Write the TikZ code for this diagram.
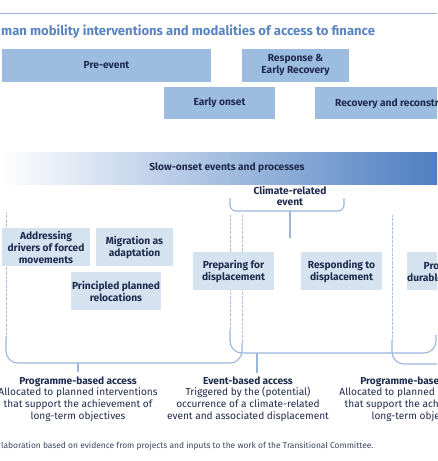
\documentclass[tikz,border=0pt]{standalone}
\usepackage{fontspec}
\setmainfont{Fira Sans}
\definecolor{navy}{HTML}{1F2B4D}
\definecolor{topfill}{HTML}{9DBDE0}
\definecolor{lowfill}{HTML}{D5E3F1}
\definecolor{linec}{HTML}{9AB7DB}
\definecolor{titlec}{HTML}{5A85C0}
\definecolor{barmid}{HTML}{B9CEE9}
\definecolor{barright}{HTML}{4E7FC1}
\definecolor{footc}{HTML}{3A4560}
\begin{document}
\begin{tikzpicture}[x=1pt,y=-1pt,
  boxfont/.style={font=\fontsize{10.2}{12}\selectfont\bfseries,text=navy,align=center},
  topbox/.style={boxfont,fill=topfill,draw=none,inner sep=0pt},
  lowbox/.style={boxfont,fill=lowfill,draw=none,inner sep=0pt,minimum height=38pt},
  brk/.style={draw=linec,line width=1.1pt,rounded corners=12pt},
  smallbrk/.style={draw=linec,line width=1.1pt,rounded corners=6pt},
  dotline/.style={draw=linec!80,line width=0.9pt,dash pattern=on 0.6pt off 0.7pt},
  desc/.style={font=\fontsize{10.1}{11.7}\selectfont,text=navy,align=center,inner sep=0pt}
]
\useasboundingbox (0,0) rectangle (437,461);
\clip (0,0) rectangle (437,461);
\fill[white] (0,0) rectangle (437,461);

% top rule and title
\coordinate (rl) at (0,13);
\coordinate (rr) at (437,13);
\draw[linec,line width=0.8pt] (rl) -- (rr);
\node[anchor=west,inner sep=0pt,text=titlec,font=\fontsize{13.1}{14}\selectfont\bfseries] (title) at (1,32) {man mobility interventions and modalities of access to finance};

% phase boxes
\node[topbox,minimum width=209pt,minimum height=33pt] (pre) at (106.5,65.5) {Pre-event};
\node[topbox,minimum width=107pt,minimum height=33pt] (resp) at (295.5,65.5) {Response \&\\Early Recovery};
\node[topbox,minimum width=111pt,minimum height=32pt] (early) at (219.5,103) {Early onset};
\node[topbox,minimum width=190pt,minimum height=32pt,anchor=west] (recov) at (315,103) {};
\node[boxfont,anchor=west,inner sep=0pt] (recovt) at (335,103) {Recovery and reconstruction};

% slow onset bar
\shade[left color=white,middle color=barmid,right color=barright] (0,152) rectangle (437,184);
\node[boxfont,inner sep=0pt] (slow) at (227,168) {Slow-onset events and processes};

% climate-related event bracket
\node[boxfont,inner sep=0pt,font=\fontsize{10.2}{10.5}\selectfont\bfseries] (clim) at (290,196) {Climate-related\\event};
\coordinate (cl) at (230,198);
\coordinate (cr) at (344,198);
\draw[smallbrk] (cl) -- (230,211) -- (344,211) -- (cr);
\coordinate (cs1) at (290,211);
\coordinate (cs2) at (290,238);
\draw[draw=linec,line width=1.1pt] (cs1) -- (cs2);

% dotted guide lines
\coordinate (d1a) at (6,212);   \coordinate (d1b) at (6,337);
\coordinate (d2a) at (230,215); \coordinate (d2b) at (230,330);
\coordinate (d3a) at (242,215); \coordinate (d3b) at (242,343);
\coordinate (d4a) at (392,215); \coordinate (d4b) at (392,340);
\draw[dotline] (d1a) -- (d1b);
\draw[dotline] (d2a) -- (d2b);
\draw[dotline] (d3a) -- (d3b);
\draw[dotline] (d4a) -- (d4b);

% bottom brackets
\draw[brk] (d1b) -- (6,363) -- (242,363) -- (d3b);
\draw[brk] (d2b) -- (230,353) -- (436,353) -- (436,335);
\draw[brk] (d4b) -- (392,364) -- (470,364);
\coordinate (s1a) at (78,363); \coordinate (s1b) at (78,372);
\coordinate (s2a) at (257,353); \coordinate (s2b) at (257,373);
\draw[draw=linec,line width=1.1pt] (s1a) -- (s1b);
\draw[draw=linec,line width=1.1pt] (s2a) -- (s2b);

% intervention boxes
\node[lowbox,minimum width=88pt] (addr) at (46,247) {Addressing\\drivers of forced\\movements};
\node[lowbox,minimum width=77pt] (migr) at (134.5,247) {Migration as\\adaptation};
\node[lowbox,minimum width=90pt] (reloc) at (116,291) {Principled planned\\relocations};
\node[lowbox,minimum width=81pt] (prep) at (233.5,271) {Preparing for\\displacement};
\node[lowbox,minimum width=81pt] (respd) at (341.5,271) {Responding to\\displacement};
\node[lowbox,minimum width=82pt] (prom) at (448,271) {Promoting\\durable solutions};

% access descriptions
\node[desc] (pba) at (78,399) {\textbf{Programme-based access}\\Allocated to planned interventions\\that support the achievement of\\long-term objectives};
\node[desc] (eba) at (248,399) {\textbf{Event-based access}\\Triggered by the (potential)\\occurrence of a climate-related\\event and associated displacement};
\node[desc] (pbb) at (419,399) {\textbf{Programme-based access}\\Allocated to planned interventions\\that support the achievement of\\long-term objectives};

% footnote
\node[anchor=west,inner sep=0pt,text=footc,font=\fontsize{8.4}{9}\selectfont] (foot) at (1,446) {laboration based on evidence from projects and inputs to the work of the Transitional Committee.};
\end{tikzpicture}
\end{document}
